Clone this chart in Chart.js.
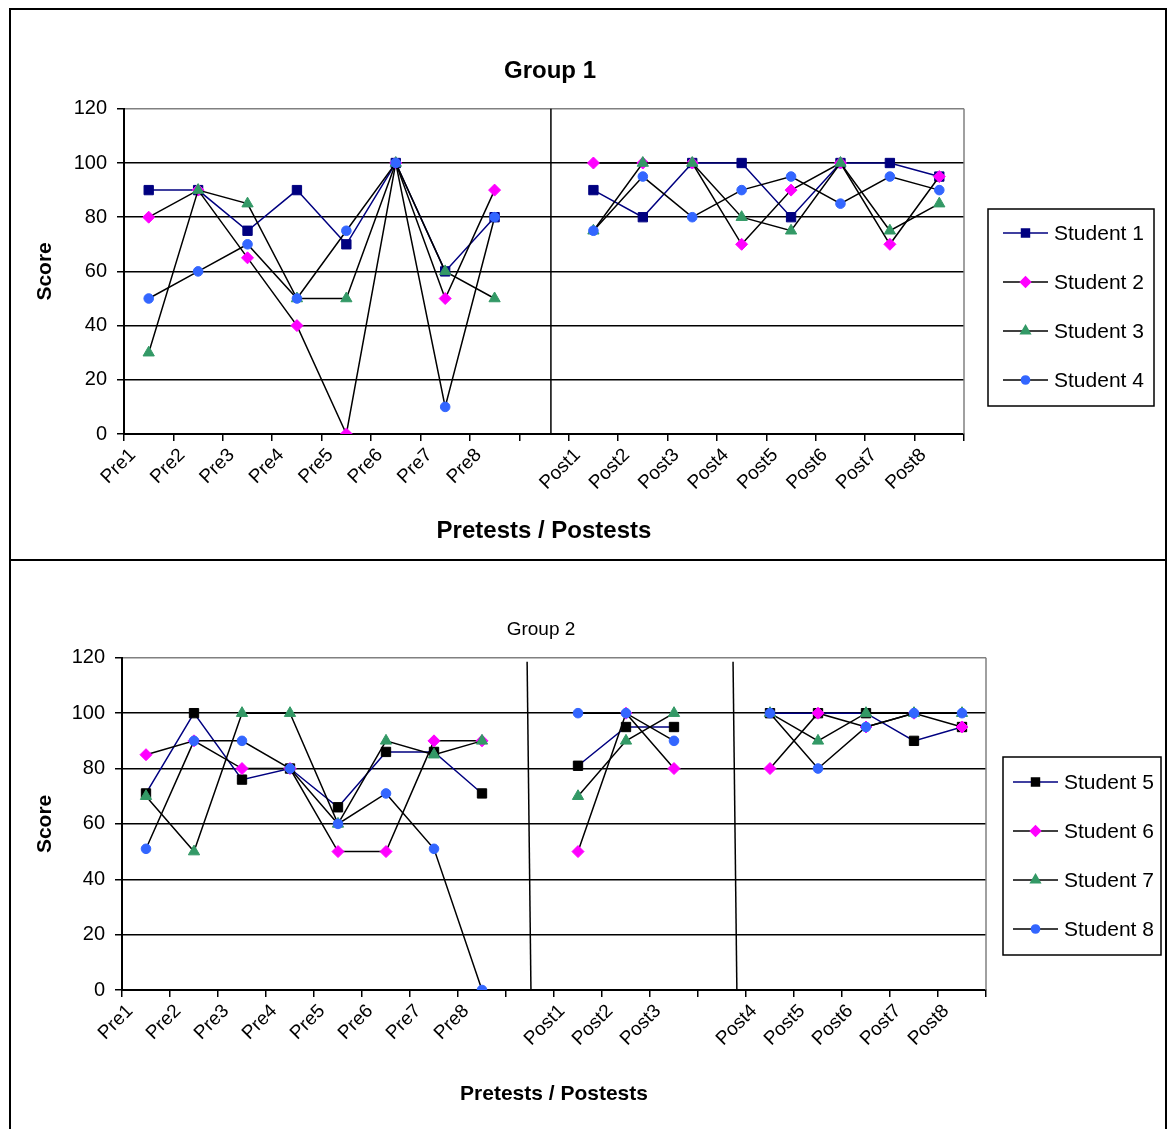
<!DOCTYPE html>
<html>
<head>
<meta charset="utf-8">
<title>Group 1 / Group 2 scores</title>
<script src="https://cdn.jsdelivr.net/npm/chart.js@4.4.1/dist/chart.umd.min.js"></script>
<style>
  html, body { margin: 0; padding: 0; background: #fff; overflow: hidden; }
  body { width: 1170px; height: 1129px; position: relative; }
  .panel { position: absolute; left: 9px; width: 1158px; border: 2px solid #000; box-sizing: border-box; }
  #panel1 { top: 8px; height: 553px; }
  #panel2 { top: 559px; height: 600px; }
  .box { position: absolute; left: 11px; width: 1154px; }
  #box1 { top: 10px; height: 548px; }
  #box2 { top: 562px; height: 567px; }
</style>
</head>
<body>
<div class="panel" id="panel1"></div>
<div class="panel" id="panel2"></div>
<div class="box" id="box1"><canvas id="chart1"></canvas></div>
<div class="box" id="box2"><canvas id="chart2"></canvas></div>
<script>
// categories - the empty label is the gap column between pre and post tests
const labels1 = ['Pre1', 'Pre2', 'Pre3', 'Pre4', 'Pre5', 'Pre6', 'Pre7', 'Pre8', '',
                 'Post1', 'Post2', 'Post3', 'Post4', 'Post5', 'Post6', 'Post7', 'Post8'];
const labels2 = ['Pre1', 'Pre2', 'Pre3', 'Pre4', 'Pre5', 'Pre6', 'Pre7', 'Pre8', '',
                 'Post1', 'Post2', 'Post3', '', 'Post4', 'Post5', 'Post6', 'Post7', 'Post8'];

const yTicks = [0, 20, 40, 60, 80, 100, 120];

// Group 1 scores
const student1 = [90, 90, 75, 90, 70, 100, 60, 80, null, 90, 80, 100, 100, 80, 100, 100, 95];
const student2 = [80, 90, 65, 40, 0, 100, 50, 90, null, 100, 100, 100, 70, 90, 100, 70, 95];
const student3 = [30, 90, 85, 50, 50, 100, 60, 50, null, 75, 100, 100, 80, 75, 100, 75, 85];
const student4 = [50, 60, 70, 50, 75, 100, 10, 80, null, 75, 95, 80, 90, 95, 85, 95, 90];

// Group 2 scores
const student5 = [71, 100, 76, 80, 66, 86, 86, 71, null, 81, 95, 95, null, 100, 100, 100, 90, 95];
const student6 = [85, 90, 80, 80, 50, 50, 90, 90, null, 50, 100, 80, null, 80, 100, 95, 100, 95];
const student7 = [70, 50, 100, 100, 60, 90, 85, 90, null, 70, 90, 100, null, 100, 90, 100, 100, 100];
const student8 = [51, 90, 90, 80, 60, 71, 51, 0, null, 100, 100, 90, null, 100, 80, 95, 100, 100];

const FONT = 'Liberation Sans, Arial, sans-serif';
Chart.defaults.font.family = FONT;
Chart.defaults.color = '#000';

// marker / line look per series slot
const looks = [
    { marker: 'rect',    radius: 6.6, line: '#000080' },
    { marker: 'rectRot', radius: 6,   line: '#000000', fill: '#ff00ff' },
    { marker: 'triangle', radius: 6.5, line: '#000000', fill: '#339966' },
    { marker: 'circle',  radius: 4.8, line: '#000000', fill: '#3366ff' }
];

// separators, plot border and boxed legend
const extras = {
    id: 'extras',
    beforeDatasetsDraw(chart, args, opts) {
        const { ctx, chartArea: a, scales: { x } } = chart;
        ctx.save();
        ctx.strokeStyle = '#808080';
        ctx.lineWidth = 1.5;
        ctx.beginPath();
        ctx.moveTo(a.right, a.top);
        ctx.lineTo(a.right, a.bottom);
        ctx.stroke();
        ctx.strokeStyle = '#000';
        ctx.lineWidth = 1.5;
        opts.separators.forEach(s => {
            ctx.beginPath();
            ctx.moveTo(x.getPixelForValue(s.top), a.top + s.gap);
            ctx.lineTo(x.getPixelForValue(s.bottom), a.bottom);
            ctx.stroke();
        });
        ctx.restore();
    },
    afterDraw(chart, args, opts) {
        const { ctx } = chart;
        const L = opts.legend;
        ctx.save();
        ctx.strokeStyle = '#000';
        ctx.lineWidth = 1.5;
        ctx.strokeRect(L.x, L.y, L.w, L.h);
        ctx.font = '21px ' + FONT;
        ctx.textBaseline = 'middle';
        chart.data.datasets.forEach((ds, i) => {
            const cy = L.y + L.first + i * L.gap;
            ctx.strokeStyle = ds.borderColor;
            ctx.lineWidth = 1.5;
            ctx.beginPath();
            ctx.moveTo(L.x + L.line0, cy);
            ctx.lineTo(L.x + L.line1, cy);
            ctx.stroke();
            ctx.fillStyle = ds.pointBackgroundColor;
            ctx.strokeStyle = ds.pointBackgroundColor;
            Chart.helpers.drawPoint(ctx, { pointStyle: ds.pointStyle, radius: ds.pointRadius * 0.85, rotation: 0, borderWidth: 1 },
                                    L.x + (L.line0 + L.line1) / 2, cy);
            ctx.fillStyle = '#000';
            ctx.fillText(ds.label, L.x + L.text, cy + 1);
        });
        ctx.restore();
    }
};

function plotGroup(canvasId, cfg) {
    const ctx = document.getElementById(canvasId).getContext('2d');
    return new Chart(ctx, {
        type: 'line',
        data: {
            labels: cfg.labels,
            datasets: cfg.series.map((s, i) => ({
                label: s.name,
                data: s.data,
                yAxisID: 'y',
                borderColor: looks[i].line,
                borderWidth: 1.5,
                pointStyle: looks[i].marker,
                pointRadius: looks[i].radius,
                pointHoverRadius: looks[i].radius,
                pointBackgroundColor: looks[i].fill || s.fill,
                pointBorderColor: looks[i].fill || s.fill,
                pointBorderWidth: 1,
                tension: 0,
                spanGaps: false,
                order: cfg.series.length - i
            }))
        },
        options: {
            responsive: true,
            maintainAspectRatio: false,
            animation: false,
            events: [],
            layout: { padding: { left: 0, top: 0, bottom: 0, right: cfg.padRight } },
            plugins: {
                legend: { display: false },
                tooltip: { enabled: false },
                title: {
                    display: true,
                    text: cfg.title,
                    color: '#000',
                    font: { size: cfg.titleSize, weight: cfg.titleWeight },
                    padding: cfg.titlePad
                },
                extras: { separators: cfg.separators, legend: cfg.legend }
            },
            scales: {
                x: {
                    offset: true,
                    afterFit(scale) { scale.height = cfg.xHeight; },
                    grid: { drawOnChartArea: false, offset: true, color: '#000', lineWidth: 1.5, tickLength: 7 },
                    border: { color: '#000', width: 2 },
                    ticks: { autoSkip: false, minRotation: 45, maxRotation: 45, padding: 3, labelOffset: -16,
                             font: { size: 19 }, color: '#000' },
                    title: { display: true, text: 'Pretests / Postests', color: '#000',
                             font: { size: cfg.xTitleSize, weight: 'bold' }, padding: { top: 0, bottom: cfg.xTitlePad } }
                },
                y: {
                    min: 0,
                    max: 120,
                    afterFit(scale) { scale.width = cfg.yWidth; },
                    afterBuildTicks(scale) { scale.ticks = yTicks.map(v => ({ value: v })); },
                    grid: {
                        color: c => (c.tick && c.tick.value === 120 ? '#808080' : '#000'),
                        tickColor: '#000',
                        lineWidth: 1.5,
                        tickLength: 7
                    },
                    border: { color: '#000', width: 2 },
                    ticks: { padding: 10, font: { size: 20 }, color: '#000' },
                    title: { display: true, text: 'Score', color: '#000',
                             font: { size: 21, weight: 'bold' }, padding: { top: 22, bottom: 0 } }
                },
                // empty right-hand box that keeps room for the legend
                side: {
                    type: 'linear',
                    position: 'right',
                    afterFit(scale) { scale.width = cfg.legendRoom; },
                    grid: { display: false },
                    border: { display: false },
                    ticks: { display: false },
                    title: { display: false }
                }
            }
        },
        plugins: [extras]
    });
}

plotGroup('chart1', {
    labels: labels1,
    title: 'Group 1', titleSize: 24, titleWeight: 'bold', titlePad: { top: 47, bottom: 23 },
    padRight: 76, legendRoom: 125, yWidth: 113, xHeight: 124, xTitleSize: 24, xTitlePad: 12,
    series: [
        { name: 'Student 1', data: student1, fill: '#000080' },
        { name: 'Student 2', data: student2 },
        { name: 'Student 3', data: student3 },
        { name: 'Student 4', data: student4 }
    ],
    separators: [{ top: 8.14, bottom: 8.14, gap: 0 }],
    legend: { x: 977, y: 199, w: 166, h: 197, first: 24, gap: 49, line0: 15, line1: 60, text: 66 }
});

plotGroup('chart2', {
    labels: labels2,
    title: 'Group 2', titleSize: 19, titleWeight: 'normal', titlePad: { top: 56, bottom: 17 },
    padRight: 94, legendRoom: 85, yWidth: 111, xHeight: 139, xTitleSize: 21, xTitlePad: 22,
    series: [
        { name: 'Student 5', data: student5, fill: '#000000' },
        { name: 'Student 6', data: student6 },
        { name: 'Student 7', data: student7 },
        { name: 'Student 8', data: student8 }
    ],
    separators: [{ top: 7.94, bottom: 8.02, gap: 4 }, { top: 12.23, bottom: 12.31, gap: 4 }],
    legend: { x: 992, y: 195, w: 158, h: 198, first: 25, gap: 49, line0: 10, line1: 55, text: 61 }
});
</script>
</body>
</html>
